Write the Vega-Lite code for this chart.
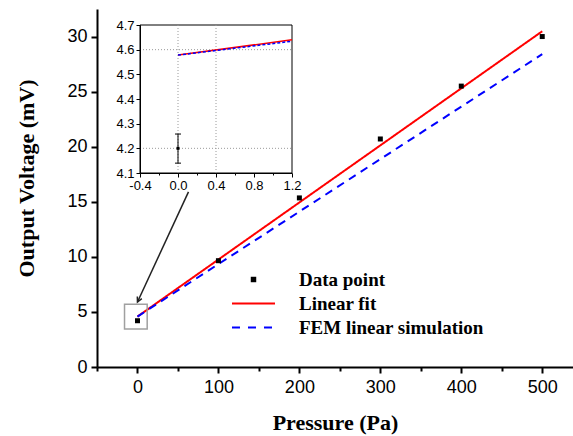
{
  "$schema": "https://vega.github.io/schema/vega-lite/v6.json",
  "width": 476,
  "height": 358,
  "autosize": "none",
  "padding": {"left": 97, "top": 9, "right": 0, "bottom": 69},
  "background": "white",
  "config": {
    "view": {"stroke": null},
    "axis": {"labelColor": "black", "titleColor": "black", "domainColor": "black", "tickColor": "black", "grid": false}
  },
  "resolve": {"scale": {"x": "independent", "y": "independent"}, "axis": {"x": "independent", "y": "independent"}},
  "layer": [
    {
      "layer": [
        {
          "data": {"values": [
            {"series": "Linear fit", "pressure": 0, "voltage": 4.578},
            {"series": "Linear fit", "pressure": 500, "voltage": 30.48},
            {"series": "FEM linear simulation", "pressure": 0, "voltage": 4.578},
            {"series": "FEM linear simulation", "pressure": 500, "voltage": 28.4}
          ]},
          "mark": {"type": "line", "strokeWidth": 2},
          "encoding": {
            "x": {"field": "pressure", "type": "quantitative",
              "scale": {"domain": [-50, 538], "nice": false, "zero": false},
              "axis": {"title": "Pressure (Pa)", "titleFont": "Liberation Serif", "titleFontSize": 22, "titleFontWeight": "bold", "titlePadding": 16,
                "values": [-50, 0, 50, 100, 150, 200, 250, 300, 350, 400, 450, 500],
                "labelExpr": "datum.value >= 0 && datum.value % 100 === 0 ? datum.label : ''",
                "labelFont": "Liberation Sans", "labelFontSize": 18, "labelPadding": 5,
                "domainWidth": 2, "tickWidth": 2,
                "tickSize": {"condition": {"test": "datum.value % 100 === 0", "value": 6}, "value": 4}}},
            "y": {"field": "voltage", "type": "quantitative",
              "scale": {"domain": [0, 32.5], "nice": false, "zero": false},
              "axis": {"title": "Output Voltage (mV)", "titleFont": "Liberation Serif", "titleFontSize": 22, "titleFontWeight": "bold", "titlePadding": 28, "titleY": 169,
                "values": [0, 2.5, 5, 7.5, 10, 12.5, 15, 17.5, 20, 22.5, 25, 27.5, 30],
                "labelExpr": "datum.value % 5 === 0 ? datum.label : ''",
                "labelFont": "Liberation Sans", "labelFontSize": 18, "labelPadding": 4,
                "domainWidth": 2, "tickWidth": 2,
                "tickSize": {"condition": {"test": "datum.value % 5 === 0", "value": 6}, "value": 4}}},
            "color": {"field": "series", "type": "nominal",
              "scale": {"domain": ["Data point", "Linear fit", "FEM linear simulation"], "range": ["#000000", "#ff0000", "#0000ff"]},
              "legend": {"orient": "none", "legendX": 147, "legendY": 261, "title": null,
                "symbolType": "stroke", "symbolSize": 1850, "symbolStrokeWidth": 2,
                "labelFont": "Liberation Serif", "labelFontSize": 19, "labelFontWeight": "bold", "labelColor": "black",
                "labelOffset": 36, "labelLimit": 0, "rowPadding": 4,
                "encode": {"symbols": {"update": {
                  "shape": {"signal": "datum.value === 'Data point' ? 'square' : 'stroke'"},
                  "size": {"signal": "datum.value === 'Data point' ? 30 : 1850"},
                  "fill": {"signal": "datum.value === 'Data point' ? 'black' : 'transparent'"},
                  "strokeWidth": {"signal": "datum.value === 'Data point' ? 0 : 2"},
                  "strokeDash": {"signal": "datum.value === 'FEM linear simulation' ? [8, 8] : [1, 0]"}
                }}}}},
            "strokeDash": {"field": "series", "type": "nominal",
              "scale": {"domain": ["Linear fit", "FEM linear simulation"], "range": [[1, 0], [8, 6]]},
              "legend": null}
          }
        },
        {
          "data": {"values": [
            {"series": "Data point", "pressure": 0, "voltage": 4.2},
            {"series": "Data point", "pressure": 100, "voltage": 9.65},
            {"series": "Data point", "pressure": 200, "voltage": 15.35},
            {"series": "Data point", "pressure": 300, "voltage": 20.7},
            {"series": "Data point", "pressure": 400, "voltage": 25.5},
            {"series": "Data point", "pressure": 500, "voltage": 30.0}
          ]},
          "mark": {"type": "point", "shape": "square", "filled": true, "size": 25, "opacity": 1},
          "encoding": {
            "x": {"field": "pressure", "type": "quantitative"},
            "y": {"field": "voltage", "type": "quantitative"},
            "color": {"field": "series", "type": "nominal"}
          }
        },
        {
          "data": {"values": [{"pressure": -16, "pressure2": 12, "voltage": 3.45, "voltage2": 5.7}]},
          "mark": {"type": "rect", "fill": null, "fillOpacity": 0, "stroke": "#a0a0a0", "strokeWidth": 1.5},
          "encoding": {
            "x": {"field": "pressure", "type": "quantitative"},
            "x2": {"field": "pressure2"},
            "y": {"field": "voltage", "type": "quantitative"},
            "y2": {"field": "voltage2"}
          }
        },
        {
          "data": {"values": [{"pressure": 63, "pressure2": 0, "voltage": 15.9, "voltage2": 5.9}]},
          "mark": {"type": "rule", "stroke": "#222222", "strokeWidth": 1.5},
          "encoding": {
            "x": {"field": "pressure", "type": "quantitative"},
            "x2": {"field": "pressure2"},
            "y": {"field": "voltage", "type": "quantitative"},
            "y2": {"field": "voltage2"}
          }
        },
        {
          "data": {"values": [{"pressure": 0, "voltage": 5.9}]},
          "mark": {"type": "point", "shape": "M -0.45 0.9 L 0 0 L 0.45 0.9", "filled": false, "stroke": "#222222", "strokeWidth": 1.5, "size": 120, "angle": 205, "opacity": 1},
          "encoding": {
            "x": {"field": "pressure", "type": "quantitative"},
            "y": {"field": "voltage", "type": "quantitative"}
          }
        },
        {
          "mark": {"type": "rule", "stroke": "black", "strokeWidth": 2},
          "encoding": {"y": {"datum": 32.5, "type": "quantitative"}}
        }
      ]
    },
    {
      "layer": [
        {
          "data": {"values": [{"p": -0.4, "p2": 1.2, "v": 4.1, "v2": 4.7}]},
          "mark": {"type": "rect", "fill": "white", "stroke": "black", "strokeWidth": 1},
          "encoding": {
            "x": {"field": "p", "type": "quantitative",
              "scale": {"domain": [-0.4, 1.2], "range": [43, 195], "nice": false, "zero": false},
              "axis": {"orient": "bottom", "offset": -194, "title": null, "zindex": 1,
                "values": [-0.4, -0.2, 0, 0.2, 0.4, 0.6, 0.8, 1.0, 1.2],
                "labelExpr": "round(datum.value * 10) % 4 === 0 ? replace(format(datum.value, '.1f'), '\u2212', '-') : ''",
                "labelFont": "Liberation Sans", "labelFontSize": 13, "labelPadding": 2, "labelFlush": false, "labelOverlap": false,
                "tickSize": {"condition": {"test": "round(datum.value * 10) % 4 === 0", "value": 4}, "value": 2}}},
            "x2": {"field": "p2"},
            "y": {"field": "v", "type": "quantitative",
              "scale": {"domain": [4.1, 4.7], "range": [164, 16], "nice": false, "zero": false},
              "axis": {"orient": "left", "offset": -43, "title": null, "zindex": 1,
                "values": [4.1, 4.15, 4.2, 4.25, 4.3, 4.35, 4.4, 4.45, 4.5, 4.55, 4.6, 4.65, 4.7],
                "labelExpr": "abs(datum.value * 10 - round(datum.value * 10)) < 0.001 ? format(datum.value, '.1f') : ''",
                "labelFont": "Liberation Sans", "labelFontSize": 13, "labelPadding": 2, "labelFlush": false, "labelOverlap": false,
                "tickSize": {"condition": {"test": "abs(datum.value * 10 - round(datum.value * 10)) < 0.001", "value": 4}, "value": 2}}},
            "y2": {"field": "v2"}
          }
        },
        {
          "data": {"values": [{"p": 0}, {"p": 0.4}]},
          "mark": {"type": "rule", "stroke": "#9a9a9a", "strokeWidth": 1, "strokeDash": [1, 2]},
          "encoding": {
            "x": {"field": "p", "type": "quantitative"},
            "y": {"datum": 4.1, "type": "quantitative"},
            "y2": {"datum": 4.7}
          }
        },
        {
          "data": {"values": [{"v": 4.2}, {"v": 4.6}]},
          "mark": {"type": "rule", "stroke": "#9a9a9a", "strokeWidth": 1, "strokeDash": [1, 2]},
          "encoding": {
            "y": {"field": "v", "type": "quantitative"},
            "x": {"datum": -0.4, "type": "quantitative"},
            "x2": {"datum": 1.2}
          }
        },
        {
          "data": {"values": [{"p": 0, "v": 4.578}, {"p": 1.2, "v": 4.64}]},
          "mark": {"type": "line", "stroke": "#ff0000", "strokeWidth": 1.5},
          "encoding": {
            "x": {"field": "p", "type": "quantitative"},
            "y": {"field": "v", "type": "quantitative"}
          }
        },
        {
          "data": {"values": [{"p": 0, "v": 4.578}, {"p": 1.2, "v": 4.634}]},
          "mark": {"type": "line", "stroke": "#0000ff", "strokeWidth": 1.5, "strokeDash": [3, 2]},
          "encoding": {
            "x": {"field": "p", "type": "quantitative"},
            "y": {"field": "v", "type": "quantitative"}
          }
        },
        {
          "data": {"values": [{"p": 0, "lo": 4.14, "hi": 4.258}]},
          "mark": {"type": "rule", "stroke": "black", "strokeWidth": 1},
          "encoding": {
            "x": {"field": "p", "type": "quantitative"},
            "y": {"field": "lo", "type": "quantitative"},
            "y2": {"field": "hi"}
          }
        },
        {
          "data": {"values": [{"p": 0, "v": 4.14}, {"p": 0, "v": 4.258}]},
          "mark": {"type": "tick", "orient": "horizontal", "color": "black", "thickness": 1, "size": 6, "opacity": 1},
          "encoding": {
            "x": {"field": "p", "type": "quantitative"},
            "y": {"field": "v", "type": "quantitative"}
          }
        },
        {
          "data": {"values": [{"p": 0, "v": 4.2}]},
          "mark": {"type": "point", "shape": "square", "filled": true, "color": "black", "size": 9, "opacity": 1},
          "encoding": {
            "x": {"field": "p", "type": "quantitative"},
            "y": {"field": "v", "type": "quantitative"}
          }
        }
      ]
    }
  ]
}
